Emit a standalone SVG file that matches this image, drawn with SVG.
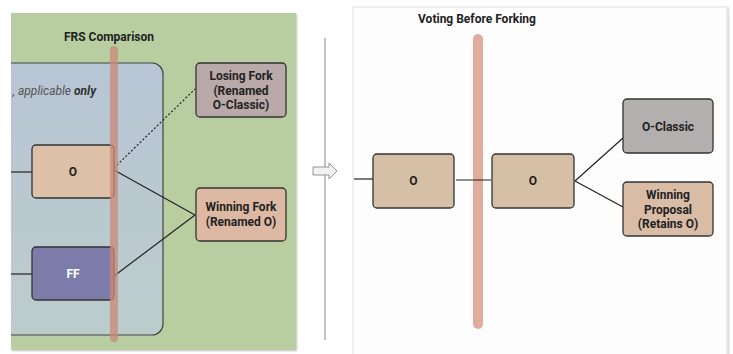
<svg xmlns="http://www.w3.org/2000/svg" width="733" height="354" viewBox="0 0 733 354">
<defs>
<linearGradient id="blueg" x1="0" y1="0" x2="0" y2="1">
<stop offset="0" stop-color="#b8c5d5"/>
<stop offset="1" stop-color="#bccccb"/>
</linearGradient>
<clipPath id="leftclip"><rect x="11" y="13" width="285" height="337"/></clipPath>
<filter id="sh" x="-5%" y="-5%" width="110%" height="110%"><feDropShadow dx="1" dy="1" stdDeviation="1" flood-color="#000" flood-opacity="0.25"/></filter>
</defs>
<style>
.node rect{stroke:#333;stroke-width:1.3}
.t{font-family:Roboto,"Liberation Sans",sans-serif;font-weight:bold;font-size:12px;fill:#222;text-anchor:middle;dominant-baseline:central}
.title{font-family:Roboto,"Liberation Sans",sans-serif;font-weight:bold;font-size:12px;fill:#222;text-anchor:middle}
.conn line,.conn path{stroke:#222;stroke-width:1.2;fill:none}
</style>
<rect width="733" height="354" fill="#ffffff"/>
<!-- left panel -->
<g id="left-panel">
<rect x="11" y="13" width="285" height="337" fill="#b8cea0" filter="url(#sh)"/>
<g clip-path="url(#leftclip)">
<rect x="-20" y="63" width="183" height="272" rx="11" fill="url(#blueg)" stroke="#444" stroke-width="1.2"/>
<text x="96" y="95" font-family="Roboto,'Liberation Sans',sans-serif" font-size="12" font-style="italic" fill="#555" text-anchor="end">, applicable <tspan font-weight="bold" fill="#333">only</tspan></text>
</g>
<text class="title" x="109" y="41">FRS Comparison</text>
</g>
<g class="conn" id="connectors-left">
<line x1="11" y1="172" x2="32" y2="172"/>
<line x1="11" y1="274" x2="32" y2="274"/>
<line x1="114" y1="168" x2="195" y2="89" stroke-dasharray="2,2"/>
<line x1="114" y1="170" x2="195" y2="215"/>
<line x1="114" y1="276" x2="195" y2="215"/>
</g>
<g id="node-o-left" class="node"><rect x="32" y="145" width="82" height="53" rx="4" fill="#dcc0a7"/><text class="t" x="73" y="172">O</text></g>
<g id="node-ff" class="node"><rect x="32" y="247" width="82" height="53" rx="4" fill="#7c7ba9"/><text class="t" x="73" y="274" style="fill:#fff">FF</text></g>
<g id="node-losing" class="node"><rect x="196" y="63" width="90" height="54" rx="4" fill="#b9a9a9"/>
<text class="t" x="241" y="76">Losing Fork</text><text class="t" x="241" y="91">(Renamed</text><text class="t" x="241" y="105">O-Classic)</text></g>
<g id="node-winning-fork" class="node"><rect x="196" y="188" width="90" height="53" rx="4" fill="#ddb9a3"/>
<text class="t" x="241" y="207">Winning Fork</text><text class="t" x="241" y="222">(Renamed O)</text></g>
<rect id="bar-left" x="110" y="46" width="8" height="296" rx="4" fill="#c98878" opacity="0.75"/>
<!-- middle -->
<line x1="325" y1="38" x2="325" y2="340" stroke="#999" stroke-width="1.2"/>
<path d="M313,167 H329 V163 L337,171 L329,179 V175 H313 Z" fill="#f2f2f2" stroke="#888" stroke-width="0.9"/>
<!-- right panel -->
<g id="right-panel">
<rect x="353" y="7" width="374" height="360" fill="#fdfdfd" stroke="#e2e2e2" stroke-width="1" filter="url(#sh)"/>
<text class="title" x="477" y="23">Voting Before Forking</text>
</g>
<rect id="bar-right" x="473" y="34" width="10" height="295" rx="5" fill="#e1ac9b"/>
<g class="conn" id="connectors-right">
<line x1="354" y1="179" x2="373" y2="179"/>
<line x1="456" y1="180" x2="491" y2="180"/>
<line x1="575" y1="181" x2="623" y2="138"/>
<line x1="575" y1="181" x2="623" y2="207"/>
</g>
<g id="node-o1" class="node"><rect x="373" y="154" width="81" height="54" rx="4" fill="#d5c0a5"/><text class="t" x="413.5" y="181">O</text></g>
<g id="node-o2" class="node"><rect x="492" y="154" width="82" height="54" rx="4" fill="#d5c0a5"/><text class="t" x="533" y="181">O</text></g>
<g id="node-oclassic" class="node"><rect x="623" y="99" width="90" height="54" rx="4" fill="#b4afaf"/><text class="t" x="668" y="127">O-Classic</text></g>
<g id="node-winning-proposal" class="node"><rect x="623" y="182" width="90" height="54" rx="4" fill="#d9bca5"/>
<text class="t" x="668" y="195">Winning</text><text class="t" x="668" y="210">Proposal</text><text class="t" x="668" y="224">(Retains O)</text></g>
</svg>
